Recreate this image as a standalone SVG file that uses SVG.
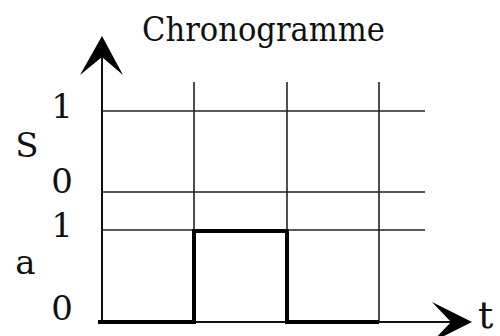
<svg xmlns="http://www.w3.org/2000/svg" width="500" height="336" viewBox="0 0 500 336">
<style>
.t{font-family:'DejaVu Serif','Liberation Serif',serif;fill:#111;font-size:34px}
.g{stroke:#222;stroke-width:1.6;fill:none}
.ax{stroke:#111;stroke-width:2;fill:none}
.sig{stroke:#000;stroke-width:4;fill:none;stroke-linejoin:miter}
</style>
<rect width="500" height="336" fill="#fff"/>
<g id="grid">
<line class="g" x1="102" y1="111" x2="425" y2="111"/>
<line class="g" x1="102" y1="192" x2="425" y2="192"/>
<line class="g" x1="102" y1="230" x2="425" y2="230"/>
<line class="g" x1="194" y1="82" x2="194" y2="322"/>
<line class="g" x1="287" y1="82" x2="287" y2="322"/>
<line class="g" x1="379" y1="82" x2="379" y2="322"/>
</g>
<g id="axes">
<line class="ax" x1="102" y1="50" x2="102" y2="322"/>
<polygon points="102,36 80,75 102,57 123,75" fill="#000"/>
<line class="ax" x1="98" y1="322" x2="460" y2="322"/>
<polygon points="472,322 432,302 451,322 432,342" fill="#000"/>
</g>
<g id="signal">
<polyline class="sig" points="98,322 194,322 194,231 287,231 287,322 379,322"/>
</g>
<g id="labels">
<text class="t" x="142" y="41" textLength="243" lengthAdjust="spacingAndGlyphs">Chronogramme</text>
<text class="t" x="62" y="118" text-anchor="middle">1</text>
<text class="t" x="27" y="157" text-anchor="middle">S</text>
<text class="t" x="62" y="193" text-anchor="middle">0</text>
<text class="t" x="62" y="237" text-anchor="middle">1</text>
<text class="t" x="25.5" y="274" text-anchor="middle">a</text>
<text class="t" x="62" y="320" text-anchor="middle">0</text>
<text class="t" x="478" y="328" style="font-size:38px">t</text>
</g>
</svg>
